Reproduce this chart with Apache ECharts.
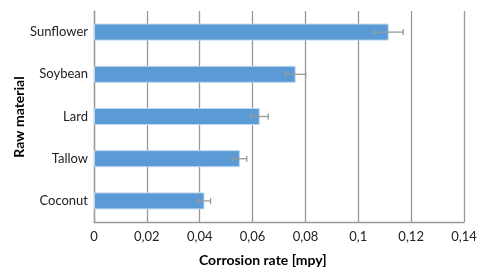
<!DOCTYPE html>
<html>
<head>
<meta charset="utf-8">
<script src="https://cdn.jsdelivr.net/npm/echarts@6/dist/echarts.min.js"></script>
<style>
  html, body { margin: 0; padding: 0; background: #fff; }
  #chart { width: 479px; height: 273px; }
</style>
</head>
<body>
<div id="chart"></div>
<script>
// categories, bottom to top
var materials = ['Coconut', 'Tallow', 'Lard', 'Soybean', 'Sunflower'];
// corrosion rate [mpy]
var rates = [0.0418, 0.0552, 0.0627, 0.0763, 0.1115];
// +/- error
var errors = [0.0023, 0.0026, 0.0032, 0.0038, 0.0055];
var xTicks = [0, 0.02, 0.04, 0.06, 0.08, 0.1, 0.12, 0.14];

var errData = materials.map(function (m, i) {
  return [i, rates[i] - errors[i], rates[i] + errors[i]];
});

var chart = echarts.init(document.getElementById('chart'));
var font = 'Lato, "Open Sans", sans-serif';

var option = {
  animation: false,
  grid: { left: 94, right: 15, top: 11, bottom: 51, outerBoundsMode: 'none', containLabel: false },
  graphic: [
    {
      type: 'text',
      left: 199,
      top: 253,
      style: { text: 'Corrosion rate [mpy]', font: 'bold 14px ' + font, fill: '#000' }
    },
    {
      type: 'text',
      x: 19,
      y: 117,
      rotation: Math.PI / 2,
      style: {
        text: 'Raw material', font: 'bold 14px ' + font, fill: '#000',
        align: 'center', verticalAlign: 'middle'
      }
    }
  ],
  xAxis: {
    type: 'value',
    min: xTicks[0],
    max: xTicks[xTicks.length - 1],
    interval: 0.02,
    axisLine: { show: true, lineStyle: { color: '#999', width: 1.3 } },
    axisTick: { show: false },
    axisLabel: {
      fontFamily: font, fontSize: 13, color: '#222', margin: 8,
      formatter: function (v) { return String(+v.toFixed(2)).replace('.', ','); }
    },
    splitLine: { show: true, lineStyle: { color: '#999', width: 1.3 } }
  },
  yAxis: {
    type: 'category',
    data: materials,
    axisLine: { show: true, lineStyle: { color: '#999', width: 1.3 } },
    axisTick: { show: false },
    axisLabel: { fontFamily: font, fontSize: 13, color: '#222', margin: 6 }
  },
  series: [
    {
      type: 'bar',
      data: rates,
      barWidth: 17,
      itemStyle: { color: '#5B9BD5', borderColor: '#BDD7EE', borderWidth: 1 }
    },
    {
      type: 'custom',
      data: errData,
      z: 10,
      encode: { x: [1, 2], y: 0 },
      renderItem: function (params, api) {
        var idx = api.value(0);
        var lo = api.coord([api.value(1), idx]);
        var hi = api.coord([api.value(2), idx]);
        var h = 3;
        var style = { stroke: '#999', lineWidth: 1.3 };
        return {
          type: 'group',
          children: [
            { type: 'line', shape: { x1: lo[0], y1: lo[1], x2: hi[0], y2: hi[1] }, style: style },
            { type: 'line', shape: { x1: lo[0], y1: lo[1] - h, x2: lo[0], y2: lo[1] + h }, style: style },
            { type: 'line', shape: { x1: hi[0], y1: hi[1] - h, x2: hi[0], y2: hi[1] + h }, style: style }
          ]
        };
      }
    }
  ]
};

chart.setOption(option);
</script>
</body>
</html>
